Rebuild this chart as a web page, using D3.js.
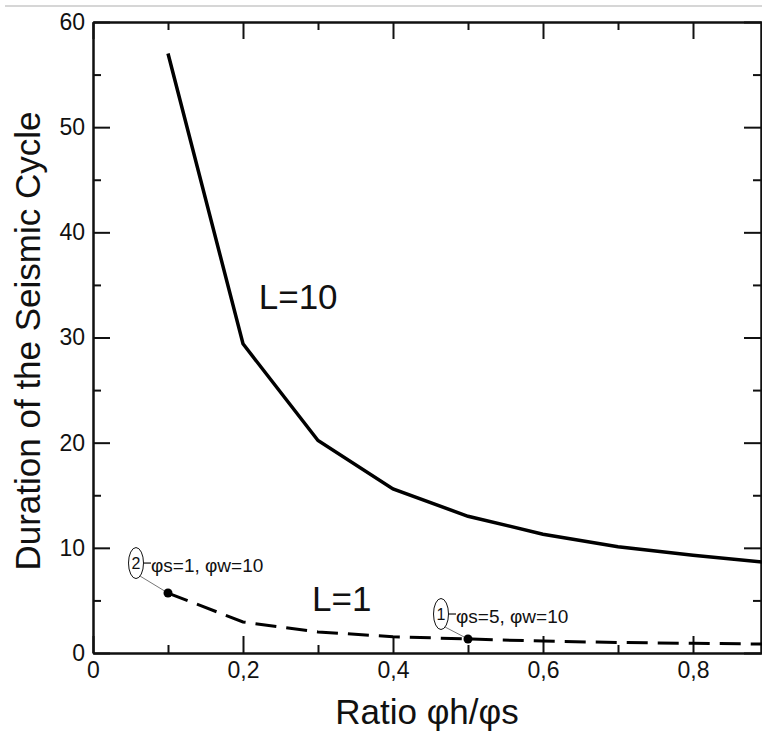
<!DOCTYPE html>
<html lang="en">
<head>
  <meta charset="UTF-8">
  <title>Seismic Cycle</title>
  <script type="text/javascript" src="https://cdn.jsdelivr.net/npm/d3@7/dist/d3.min.js"></script>
  <style type="text/css">
  body {
    margin: 0;
    padding: 0;
    background: #fff;
  }
  svg {
    display: block;
    font-family: "Liberation Sans", Arial, sans-serif;
  }
  .axis path, .axis line {
    stroke: #111;
    stroke-width: 2px;
  }
  .title {
    fill: #111;
    font-size: 35px;
  }
  .curveLabel {
    fill: #111;
    font-size: 35px;
  }
  .note {
    fill: #111;
    font-size: 19px;
  }
  </style>
</head>
<body>
  <div id="chart"></div>
</body>
<script type="text/javascript">
  var width = 762, height = 740;
  var mLeft = 93, mRight = 762, mTop = 22, mBottom = 653;

  // data
  var ratios = [0.1, 0.2, 0.3, 0.4, 0.5, 0.6, 0.7, 0.8, 0.9];
  var durationL10 = [57.0, 29.4, 20.2, 15.6, 13.0, 11.3, 10.1, 9.3, 8.6];
  var durationL1 = [5.7, 2.95, 2.0, 1.55, 1.33, 1.13, 1.0, 0.92, 0.84];
  var xMajor = [0, 0.2, 0.4, 0.6, 0.8];
  var xMinor = [0.1, 0.3, 0.5, 0.7];
  var yMajor = [0, 10, 20, 30, 40, 50, 60];
  var yMinor = [5, 15, 25, 35, 45, 55];

  // marked cases on the L=1 curve
  var notes = [
    {i: 0, tag: '2', text: 'φs=1, φw=10', dx: -32, dy: -30},
    {i: 4, tag: '1', text: 'φs=5, φw=10', dx: -27, dy: -25}
  ];

  var svg = d3.select('#chart')
    .append('svg')
    .attr('width', width)
    .attr('height', height);

  var xScale = d3.scaleLinear()
    .domain([0, (mRight - mLeft) / 750])
    .range([mLeft, mRight]);

  var yScale = d3.scaleLinear()
    .domain([0, 60])
    .range([mBottom, mTop]);

  // gray rule at the very top
  svg.append('line')
    .attr('x1', 5).attr('x2', width)
    .attr('y1', 6).attr('y2', 6)
    .attr('stroke', '#c8c8c8')
    .attr('stroke-width', 1.5);

  svg.append('clipPath')
    .attr('id', 'plotClip')
    .append('rect')
    .attr('x', mLeft).attr('y', mTop)
    .attr('width', mRight - mLeft).attr('height', mBottom - mTop);

  var fmt = function(d) {
    return d === 0 ? '0' : d3.format('.1f')(d).replace('.', ',');
  };

  function addAxis(axis, tx, ty) {
    var g = svg.append('g').attr('class', 'axis')
      .attr('transform', 'translate(' + tx + ',' + ty + ')')
      .call(axis);
    g.selectAll('text')
      .style('font-size', '23px')
      .style('font-family', '"Liberation Sans", Arial, sans-serif')
      .attr('fill', '#111');
    return g;
  }

  // axes, ticks pointing inward
  addAxis(d3.axisBottom(xScale).tickValues(xMajor).tickFormat(fmt)
    .tickSizeInner(-17).tickSizeOuter(0).tickPadding(9), 0, mBottom);
  addAxis(d3.axisBottom(xScale).tickValues(xMinor).tickFormat('')
    .tickSizeInner(-8).tickSizeOuter(0), 0, mBottom);

  addAxis(d3.axisTop(xScale).tickValues(xMajor).tickFormat('')
    .tickSizeInner(-17).tickSizeOuter(0), 0, mTop);
  addAxis(d3.axisTop(xScale).tickValues(xMinor).tickFormat('')
    .tickSizeInner(-8).tickSizeOuter(0), 0, mTop);

  addAxis(d3.axisLeft(yScale).tickValues(yMajor)
    .tickSizeInner(-17).tickSizeOuter(0).tickPadding(8), mLeft, 0);
  addAxis(d3.axisLeft(yScale).tickValues(yMinor).tickFormat('')
    .tickSizeInner(-8).tickSizeOuter(0), mLeft, 0);

  addAxis(d3.axisRight(yScale).tickValues(yMajor).tickFormat('')
    .tickSizeInner(-17).tickSizeOuter(0), mRight - 1, 0);
  addAxis(d3.axisRight(yScale).tickValues(yMinor).tickFormat('')
    .tickSizeInner(-8).tickSizeOuter(0), mRight - 1, 0);

  // curves
  var line = d3.line()
    .x(function(d) { return xScale(d[0]); })
    .y(function(d) { return yScale(d[1]); });

  var plot = svg.append('g').attr('clip-path', 'url(#plotClip)');

  plot.append('path')
    .datum(d3.zip(ratios, durationL10))
    .attr('d', line)
    .attr('fill', 'none')
    .attr('stroke', '#000')
    .attr('stroke-width', 3.5);

  plot.append('path')
    .datum(d3.zip(ratios, durationL1))
    .attr('d', line)
    .attr('fill', 'none')
    .attr('stroke', '#000')
    .attr('stroke-width', 3)
    .attr('stroke-dasharray', '21,10');

  // curve labels
  svg.append('text').attr('class', 'curveLabel')
    .attr('x', xScale(0.221)).attr('y', yScale(32.7))
    .text('L=10');
  svg.append('text').attr('class', 'curveLabel')
    .attr('x', xScale(0.292)).attr('y', yScale(4.0))
    .text('L=1');

  // annotations
  notes.forEach(function(n) {
    var px = xScale(ratios[n.i]), py = yScale(durationL1[n.i]);
    var ex = px + n.dx, ey = py + n.dy;
    var g = svg.append('g');
    g.append('line')
      .attr('x1', ex + 4).attr('y1', ey + 13)
      .attr('x2', px).attr('y2', py)
      .attr('stroke', '#777').attr('stroke-width', 1);
    g.append('ellipse')
      .attr('cx', ex).attr('cy', ey)
      .attr('rx', 7.5).attr('ry', 15.5)
      .attr('fill', 'none').attr('stroke', '#111').attr('stroke-width', 1);
    g.append('text')
      .attr('x', ex).attr('y', ey + 6)
      .attr('text-anchor', 'middle')
      .style('font-size', '16px')
      .attr('fill', '#111')
      .text(n.tag);
    g.append('line')
      .attr('x1', ex + 7.5).attr('x2', ex + 15)
      .attr('y1', ey).attr('y2', ey)
      .attr('stroke', '#111').attr('stroke-width', 1.2);
    g.append('text').attr('class', 'note')
      .attr('x', ex + 15).attr('y', ey + 9)
      .text(n.text);
    g.append('circle')
      .attr('cx', px).attr('cy', py)
      .attr('r', 4.5)
      .attr('fill', '#000');
  });

  // axis titles
  svg.append('text').attr('class', 'title')
    .attr('x', 427).attr('y', 724)
    .attr('text-anchor', 'middle')
    .text('Ratio φh/φs');

  svg.append('text').attr('class', 'title')
    .attr('transform', 'translate(40,341) rotate(-90)')
    .attr('text-anchor', 'middle')
    .text('Duration of the Seismic Cycle');
</script>
</html>
